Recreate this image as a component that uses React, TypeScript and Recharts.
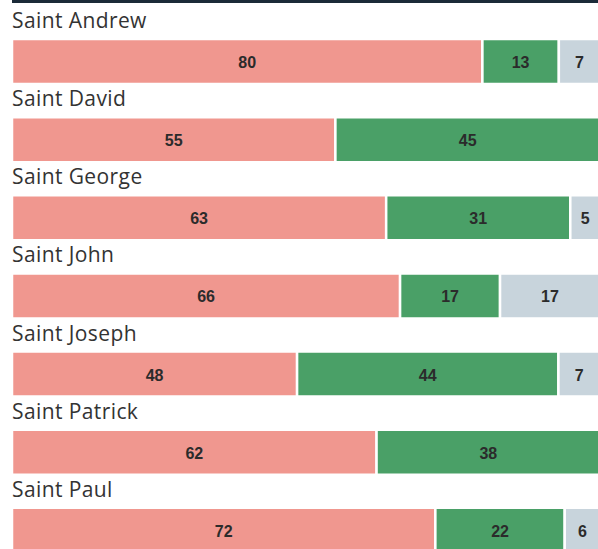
import React from 'react';
import { BarChart, Bar, XAxis, YAxis, LabelList } from 'recharts';

const saints = ['Saint Andrew', 'Saint David', 'Saint George', 'Saint John', 'Saint Joseph', 'Saint Patrick', 'Saint Paul'];
const pinkValues = [80, 55, 63, 66, 48, 62, 72];
const greenValues = [13, 45, 31, 17, 44, 38, 22];
const greyValues = [7, 0, 5, 17, 7, 0, 6];

const PINK = '#f0978f';
const GREEN = '#4aa067';
const GREY = '#c8d4dc';

const chartData = saints.map((name, i) => ({
  name,
  pink: pinkValues[i],
  green: greenValues[i],
  grey: greyValues[i],
}));

// value label centred in each segment, empty for zero segments
const ValueLabel = (props: any) => {
  const { x, y, width, height, value } = props;
  if (!value) return null;
  return (
    <text
      x={x + width / 2}
      y={y + height / 2 + 1}
      textAnchor="middle"
      dominantBaseline="central"
      fontFamily="'Liberation Sans', Arial, sans-serif"
      fontWeight="bold"
      fontSize={16}
      fill="#2b2b2b"
    >
      {value}
    </text>
  );
};

// category name sits above the bar, left aligned
const NameLabel = (props: any) => {
  const { x, y, value } = props;
  return (
    <text x={x} y={y - 11} fontFamily="'Open Sans', sans-serif" fontSize={21} letterSpacing={0.4} fill="#333">
      {value}
    </text>
  );
};

const App: React.FC = () => {
  return (
    <div style={{ position: 'fixed', left: 0, top: 0, width: 598, height: 549, overflow: 'hidden', background: '#fff' }}>
      <BarChart
        width={600}
        height={569}
        layout="vertical"
        data={chartData}
        stackOffset="expand"
        margin={{ top: 22, right: 0, bottom: 0, left: 12 }}
      >
        <XAxis type="number" domain={[0, 1]} hide />
        <YAxis type="category" dataKey="name" hide />
        <Bar dataKey="pink" stackId="a" fill={PINK} stroke="#fff" strokeWidth={2.5} barSize={45} isAnimationActive={false}>
          <LabelList dataKey="pink" content={<ValueLabel />} />
          <LabelList dataKey="name" content={<NameLabel />} />
        </Bar>
        <Bar dataKey="green" stackId="a" fill={GREEN} stroke="#fff" strokeWidth={2.5} barSize={45} isAnimationActive={false}>
          <LabelList dataKey="green" content={<ValueLabel />} />
        </Bar>
        <Bar dataKey="grey" stackId="a" fill={GREY} stroke="#fff" strokeWidth={2.5} barSize={45} isAnimationActive={false}>
          <LabelList dataKey="grey" content={<ValueLabel />} />
        </Bar>
      </BarChart>
      <div style={{ position: 'absolute', left: 12, top: 0, width: 586, height: 3, background: '#1b2a38', zIndex: 2 }} />
    </div>
  );
};

export default App;
